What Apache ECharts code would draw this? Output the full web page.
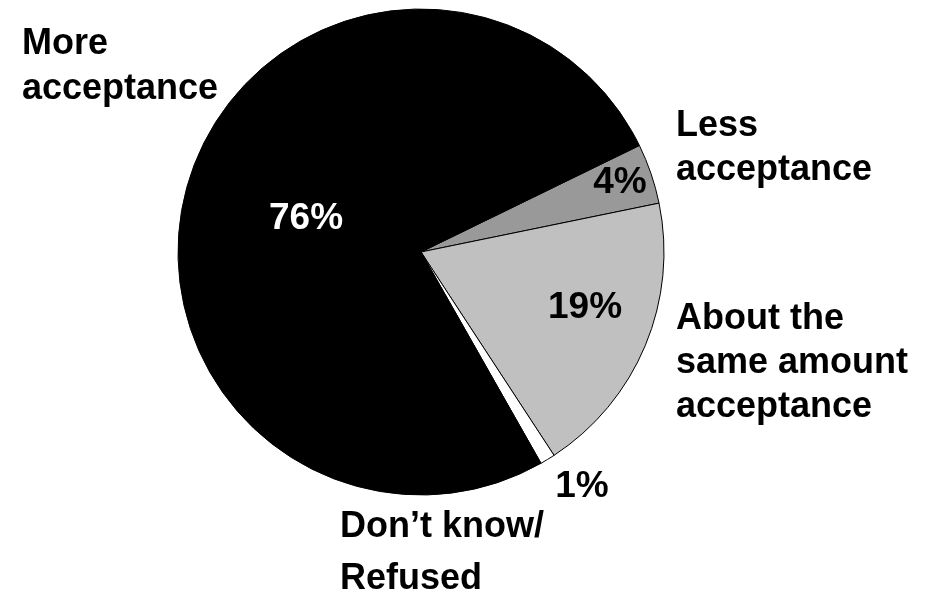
<!DOCTYPE html>
<html><head><meta charset="utf-8">
<script src="https://cdn.jsdelivr.net/npm/echarts@6/dist/echarts.min.js"></script>
<style>html,body{margin:0;padding:0;background:#fff}#c{width:936px;height:602px}</style>
</head><body><div id="c"></div>
<script>
// Data
const categories = ['Less acceptance', 'About the same amount acceptance', 'Don\u2019t know/ Refused', 'More acceptance'];
const categoryLabels = ['Less\nacceptance', 'About the\nsame amount\nacceptance', 'Don\u2019t know/\nRefused', 'More\nacceptance'];
const values = [4, 19, 1, 76];

// Styles / layout
const sliceColors = ['#999999', '#c0c0c0', '#ffffff', '#000000'];
const pctColors = ['#000', '#000', '#000', '#fff'];
const pctPos = [[620, 183], [585, 308], [582, 487], [306, 219]];
const namePos = [[676, 104], [676, 297], [340, 501], [22, 22]];
const nameLineHeights = [44, 44, 52, 45];
const FONT = '"Liberation Sans", Arial, Helvetica, sans-serif';

const chart = echarts.init(document.getElementById('c'), null, {renderer: 'canvas'});
const common = {
  type: 'pie', center: [421, 252], radius: 243, startAngle: 26, clockwise: true,
  avoidLabelOverlap: false, labelLine: {show: false}, emphasis: {disabled: true},
  silent: true, animation: false
};
chart.setOption({
  animation: false,
  series: [
    Object.assign({}, common, {
      data: values.map((v, i) => ({
        name: categories[i], value: v,
        itemStyle: {color: sliceColors[i]},
        label: {color: pctColors[i]}
      })),
      itemStyle: {borderColor: '#000', borderWidth: 1},
      label: {show: true, formatter: '{c}%', fontFamily: FONT, fontWeight: 'bold', fontSize: 37},
      labelLayout: p => ({x: pctPos[p.dataIndex][0], y: pctPos[p.dataIndex][1], align: 'center', verticalAlign: 'middle'})
    }),
    Object.assign({}, common, {
      z: 3,
      data: values.map((v, i) => ({
        name: categories[i], value: v,
        label: {formatter: categoryLabels[i], lineHeight: nameLineHeights[i]}
      })),
      itemStyle: {color: 'rgba(0,0,0,0)', borderWidth: 0},
      label: {show: true, color: '#000', fontFamily: FONT, fontWeight: 'bold', fontSize: 36, align: 'left'},
      labelLayout: p => ({x: namePos[p.dataIndex][0], y: namePos[p.dataIndex][1], align: 'left', verticalAlign: 'top'})
    })
  ]
});
</script>
</body></html>
